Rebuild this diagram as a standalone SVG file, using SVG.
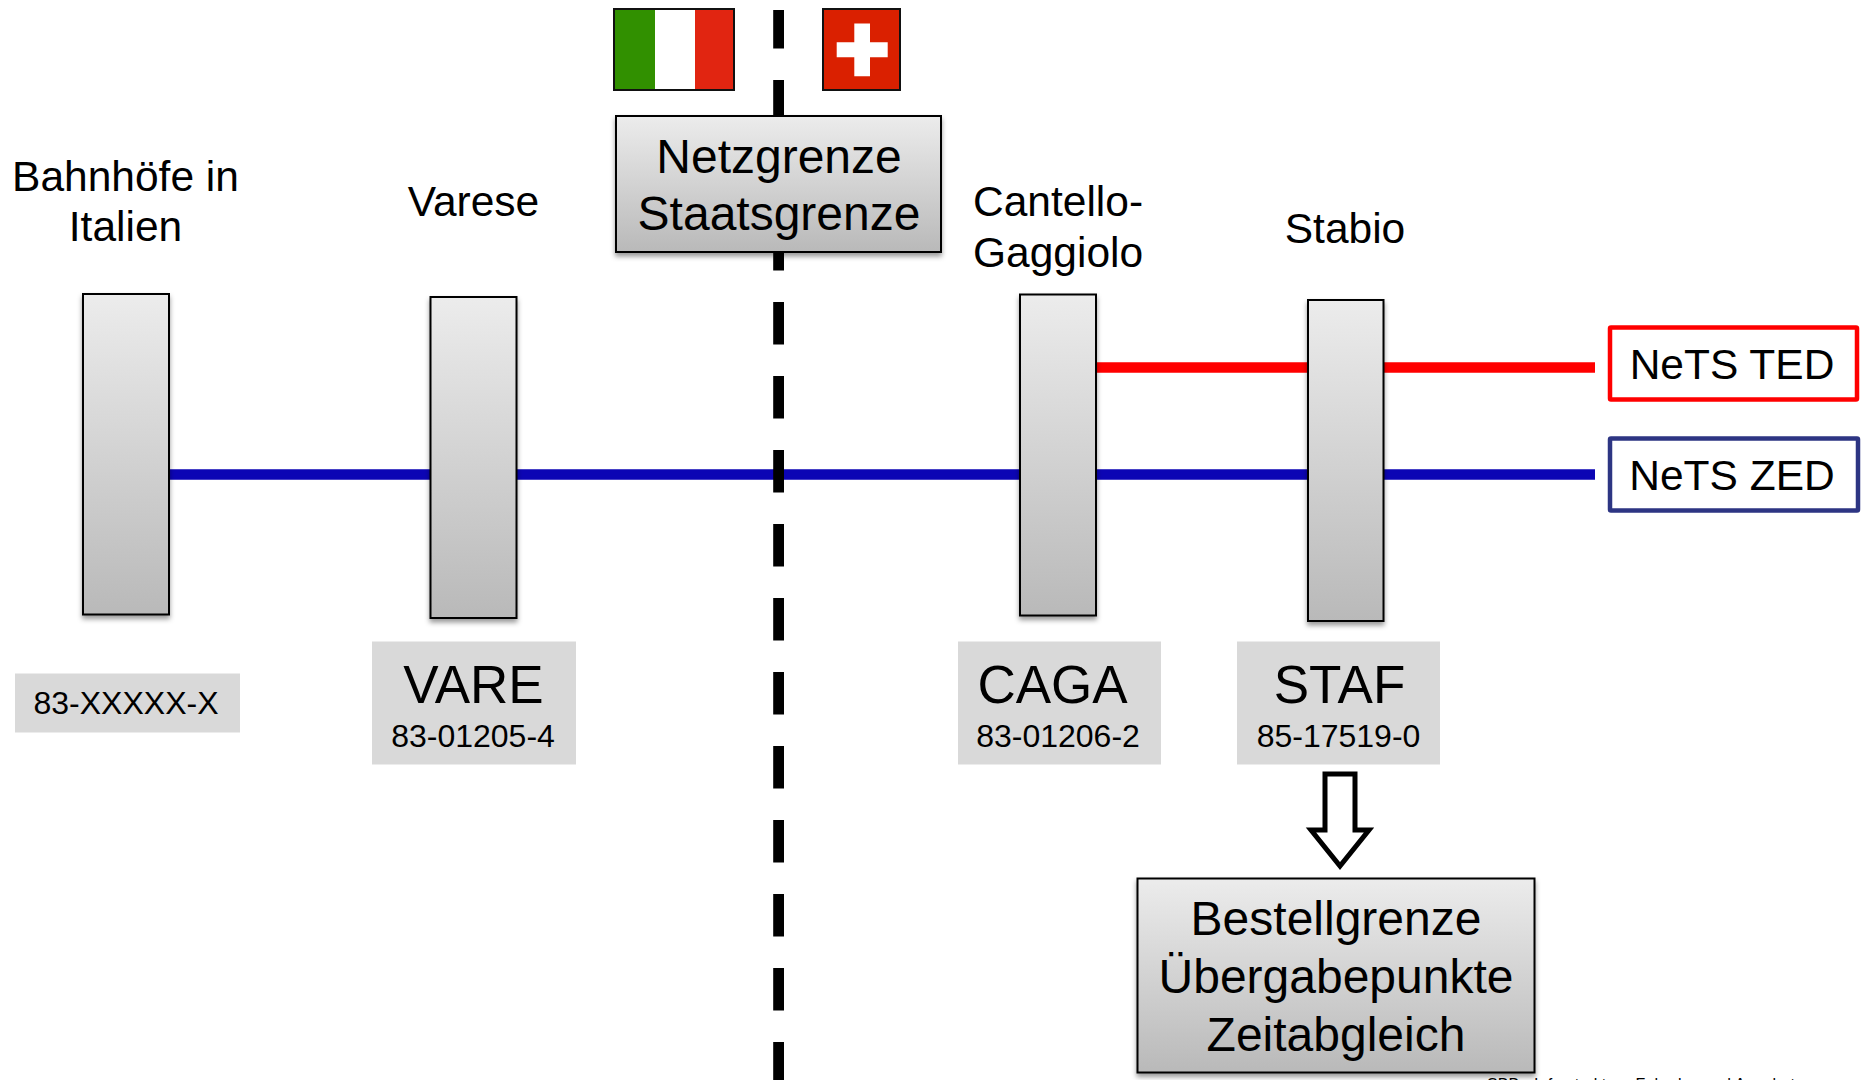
<svg xmlns="http://www.w3.org/2000/svg" width="1866" height="1080" viewBox="0 0 1866 1080">
<style>
text{font-family:"Liberation Sans",Arial,sans-serif;fill:#000}
.m{text-anchor:middle}
.f42{font-size:42.5px}.f47{font-size:48px}.f53{font-size:53px}.f32{font-size:32px}
.box{fill:url(#g);stroke:#000;stroke-width:2;filter:url(#s)}
.tag{fill:#d9d9d9}
.flagline{fill:none;stroke:#111;stroke-width:2}
</style>
<defs>
<linearGradient id="g" x1="0" y1="0" x2="0" y2="1"><stop offset="0" stop-color="#ececec"/><stop offset="1" stop-color="#b9b9b9"/></linearGradient>
<filter id="s" x="-20%" y="-10%" width="140%" height="125%"><feDropShadow dx="0" dy="3.5" stdDeviation="2.5" flood-color="#000" flood-opacity="0.4"/></filter>
</defs>
<g id="connectors">
<line x1="169" y1="474.500" x2="1595" y2="474.500" stroke="#0c05b4" stroke-width="10.4"/>
<line x1="1096" y1="367.500" x2="1595" y2="367.500" stroke="#f00" stroke-width="10.4"/>
<line x1="778.6" y1="10" x2="778.6" y2="1080" stroke="#000" stroke-width="10.8" stroke-dasharray="42.5 31.5" stroke-dashoffset="4"/>
</g>
<g id="flag-italy">
<rect x="614" y="9" width="41" height="81" fill="#319000"/><rect x="655" y="9" width="40" height="81" fill="#fff"/><rect x="695" y="9" width="39" height="81" fill="#e12511"/>
<rect class="flagline" x="614" y="9" width="120" height="81"/>
</g>
<g id="flag-switzerland">
<rect x="823" y="9" width="77" height="81" fill="#da2000" stroke="#111" stroke-width="2"/>
<path d="M854.3 23.5H870V42.3H887.7V57.3H870V76.3H854.3V57.3H836.7V42.3H854.3Z" fill="#fff"/>
</g>
<g id="node-grenze">
<rect class="box" x="616" y="116" width="325" height="136"/>
<text class="f47 m" x="779" y="173">Netzgrenze</text>
<text class="f47 m" x="779" y="230">Staatsgrenze</text>
</g>
<g id="node-italien">
<text class="f42 m" x="125.500" y="191">Bahnhöfe in</text>
<text class="f42 m" x="125.500" y="241">Italien</text>
<rect class="box" x="83" y="294" width="86" height="320.500"/>
<rect class="tag" x="15" y="673.500" width="225" height="59"/>
<text class="f32 m" x="126" y="714">83-XXXXX-X</text>
</g>
<g id="node-varese">
<text class="f42 m" x="473.500" y="216">Varese</text>
<rect class="box" x="430.500" y="297" width="86" height="321"/>
<rect class="tag" x="372" y="641.500" width="204" height="123"/>
<text class="f53 m" x="473.500" y="703">VARE</text>
<text class="f32 m" x="473" y="747">83-01205-4</text>
</g>
<g id="node-cantello">
<text class="f42" x="973" y="216">Cantello-</text>
<text class="f42" x="973" y="267">Gaggiolo</text>
<rect class="box" x="1020" y="294.500" width="76" height="321"/>
<rect class="tag" x="958" y="641.500" width="203" height="123"/>
<text class="f53 m" x="1052.500" y="703">CAGA</text>
<text class="f32 m" x="1058" y="747">83-01206-2</text>
</g>
<g id="node-stabio">
<text class="f42 m" x="1345" y="243">Stabio</text>
<rect class="box" x="1308" y="300" width="75.500" height="321"/>
<rect class="tag" x="1237" y="641.500" width="203" height="123"/>
<text class="f53 m" x="1339.500" y="703">STAF</text>
<text class="f32 m" x="1338.500" y="747">85-17519-0</text>
</g>
<g id="node-ted">
<rect x="1610" y="327.500" width="247" height="72" rx="1" fill="#fff" stroke="#f00" stroke-width="4.500"/>
<text class="f42 m" x="1732" y="379">NeTS TED</text>
</g>
<g id="node-zed">
<rect x="1610" y="438.500" width="248" height="72" rx="1" fill="#fff" stroke="#2d3583" stroke-width="4.500"/>
<text class="f42 m" x="1732" y="490">NeTS ZED</text>
</g>
<g id="arrow">
<path d="M1325 774H1355V830H1369L1340 866L1311 830H1325Z" fill="#fff" stroke="#000" stroke-width="5"/>
</g>
<g id="node-bestellgrenze">
<rect class="box" x="1137.500" y="878.500" width="397" height="194"/>
<text class="f47 m" x="1336" y="935">Bestellgrenze</text>
<text class="f47 m" x="1336" y="993">Übergabepunkte</text>
<text class="f47 m" x="1336" y="1051">Zeitabgleich</text>
</g>
<text x="1487" y="1090" font-size="16" textLength="308">SBB • Infrastruktur • Fahrplan und Angebot</text>
</svg>
